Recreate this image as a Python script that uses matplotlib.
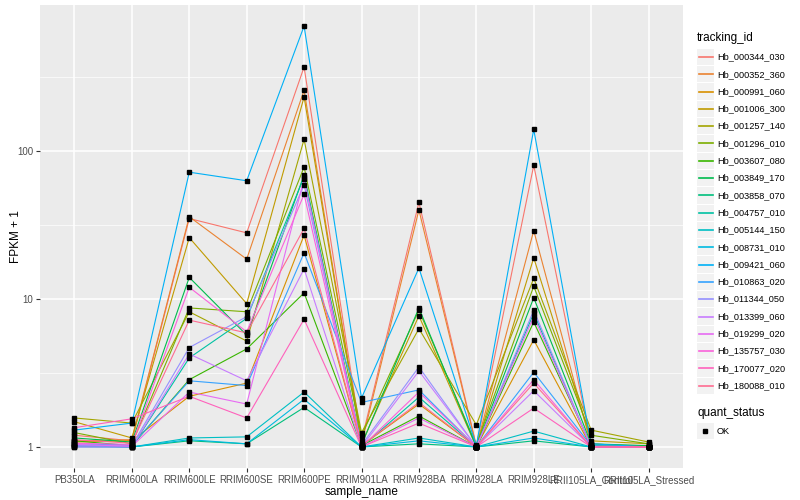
import numpy as np
import matplotlib
matplotlib.use("Agg")
import matplotlib.pyplot as plt
from matplotlib.patches import Rectangle
from matplotlib.lines import Line2D

plt.rcParams['font.family'] = ['Liberation Sans', 'DejaVu Sans']

# samples on the x axis
samples = ["PB350LA", "RRIM600LA", "RRIM600LE", "RRIM600SE", "RRIM600PE",
           "RRIM901LA", "RRIM928BA", "RRIM928LA", "RRIM928LE",
           "RRII105LA_Control", "RRII105LA_Stressed"]

tracking_ids = ["Hb_000344_030", "Hb_000352_360", "Hb_000991_060", "Hb_001006_300",
                "Hb_001257_140", "Hb_001296_010", "Hb_003607_080", "Hb_003849_170",
                "Hb_003858_070", "Hb_004757_010", "Hb_005144_150", "Hb_008731_010",
                "Hb_009421_060", "Hb_010863_020", "Hb_011344_050", "Hb_013399_060",
                "Hb_019299_020", "Hb_135757_030", "Hb_170077_020", "Hb_180088_010"]

# FPKM + 1, one row per tracking_id, one column per sample
fpkm1 = [
    [1.20, 1.10, 35.0, 28.0, 370, 1.10, 45.0, 1.02, 80.0, 1.05, 1.00],
    [1.10, 1.12, 36.0, 18.6, 258, 1.05, 40.0, 1.01, 29.0, 1.03, 1.02],
    [1.08, 1.10, 2.20, 2.70, 27.0, 1.02, 1.95, 1.00, 5.30, 1.00, 1.00],
    [1.48, 1.15, 26.0, 9.30, 232, 1.05, 7.70, 1.00, 19.0, 1.10, 1.05],
    [1.57, 1.45, 8.20, 5.20, 120, 1.25, 6.30, 1.41, 13.8, 1.30, 1.08],
    [1.25, 1.05, 8.70, 8.20, 78.0, 1.19, 8.40, 1.03, 12.2, 1.20, 1.05],
    [1.10, 1.02, 2.85, 4.60, 11.0, 1.02, 1.62, 1.00, 7.00, 1.02, 1.00],
    [1.15, 1.08, 14.0, 5.70, 69.0, 1.03, 8.70, 1.00, 10.2, 1.05, 1.02],
    [1.02, 1.00, 1.10, 1.05, 1.85, 1.00, 1.05, 1.00, 1.10, 1.00, 1.00],
    [1.00, 1.00, 4.00, 7.40, 67.0, 1.00, 2.17, 1.00, 8.00, 1.00, 1.00],
    [1.01, 1.00, 1.15, 1.17, 2.35, 1.00, 1.15, 1.00, 1.28, 1.00, 1.00],
    [1.03, 1.00, 1.12, 1.05, 2.10, 1.00, 1.10, 1.00, 1.15, 1.00, 1.00],
    [1.30, 1.45, 72.0, 63.0, 700, 2.14, 16.2, 1.02, 140, 1.05, 1.00],
    [1.05, 1.03, 2.80, 2.60, 20.5, 2.00, 2.43, 1.00, 3.20, 1.02, 1.00],
    [1.02, 1.02, 4.70, 7.60, 59.0, 1.03, 3.47, 1.00, 8.40, 1.00, 1.00],
    [1.00, 1.00, 4.25, 2.80, 16.0, 1.00, 3.26, 1.00, 2.40, 1.00, 1.00],
    [1.04, 1.01, 2.35, 1.95, 65.0, 1.00, 1.57, 1.00, 7.60, 1.00, 1.00],
    [1.06, 1.04, 12.0, 6.00, 51.0, 1.00, 2.35, 1.00, 2.85, 1.00, 1.00],
    [1.35, 1.55, 2.20, 1.57, 7.30, 1.00, 1.45, 1.00, 1.83, 1.00, 1.00],
    [1.12, 1.06, 7.20, 5.90, 30.0, 1.02, 2.00, 1.00, 2.70, 1.00, 1.00],
]

# ggplot default hue palette for 20 levels
colors = ["#F8766D", "#EA8331", "#D89000", "#C09B00", "#A3A500", "#7CAE00",
          "#39B600", "#00BB4E", "#00BF7D", "#00C1A3", "#00BFC4", "#00BAE0",
          "#00B0F6", "#35A2FF", "#9590FF", "#C77CFF", "#E76BF3", "#FA62DB",
          "#FF62BC", "#FF6C91"]

W, H = 800, 500
fig = plt.figure(figsize=(8, 5), dpi=100)
left, right, top, bottom = 40, 683, 5, 468
ax = fig.add_axes([left / W, 1 - bottom / H, (right - left) / W, (bottom - top) / H])
ax.set_facecolor("#EBEBEB")

x = np.arange(1, len(samples) + 1)
logv = np.log10(np.array(fpkm1))

for i, tid in enumerate(tracking_ids):
    ax.plot(x, logv[i], color=colors[i], lw=0.8, zorder=3)
for i, tid in enumerate(tracking_ids):
    ax.plot(x, logv[i], ls="none", marker="s", ms=2.5, color="black", zorder=4)

ymin, ymax = logv.min(), logv.max()
pad = 0.05 * (ymax - ymin)
ax.set_ylim(ymin - pad, ymax + pad)
ax.set_xlim(0.4, len(samples) + 0.6)

ax.set_yticks([0, 1, 2])
ax.set_yticklabels(["1", "10", "100"])
ax.set_yticks([0.5, 1.5, 2.5], minor=True)
ax.set_xticks(x)
ax.set_xticklabels(samples)

ax.grid(True, which="major", color="white", lw=1.1, zorder=0)
ax.grid(True, which="minor", axis="y", color="white", lw=0.5, zorder=0)
ax.set_axisbelow(True)
for s in ax.spines.values():
    s.set_visible(False)
ax.tick_params(which="major", length=3, color="#333333", labelsize=7,
               labelcolor="#4D4D4D", pad=2)
ax.tick_params(which="minor", length=0)

ax.set_xlabel("sample_name", fontsize=8.5, labelpad=1)
ax.set_ylabel("FPKM + 1", fontsize=8.5, labelpad=2)
ax.yaxis.set_label_coords(-18 / (right - left), 0.5)

# legend drawn by hand in pixel coordinates
def px(xp, yp):
    return xp / W, 1 - yp / H

fig.text(*px(697, 38), "tracking_id", fontsize=8.5, va="center", ha="left")
key = 17.3
y0 = 57
for i, tid in enumerate(tracking_ids):
    yc = y0 + i * key
    bx, by = px(697, yc + key / 2 - 0.5)
    fig.add_artist(Rectangle((bx, by), 16.5 / W, (key - 1) / H,
                             transform=fig.transFigure, color="#F2F2F2", lw=0))
    fig.add_artist(Line2D([698.5 / W, 712.5 / W], [1 - yc / H] * 2,
                          transform=fig.transFigure, color=colors[i], lw=1.2))
    fig.text(*px(717, yc), tid, fontsize=6.6, va="center", ha="left")

fig.text(*px(697, 413), "quant_status", fontsize=8.5, va="center", ha="left")
yc = 431
bx, by = px(697, yc + key / 2 - 0.5)
fig.add_artist(Rectangle((bx, by), 16.5 / W, (key - 1) / H,
                         transform=fig.transFigure, color="#F2F2F2", lw=0))
fig.add_artist(Line2D([705 / W], [1 - yc / H], transform=fig.transFigure,
                      marker="s", ms=2.5, color="black", ls="none"))
fig.text(*px(717, yc), "OK", fontsize=6.6, va="center", ha="left")

fig.savefig("out.png", dpi=100)
